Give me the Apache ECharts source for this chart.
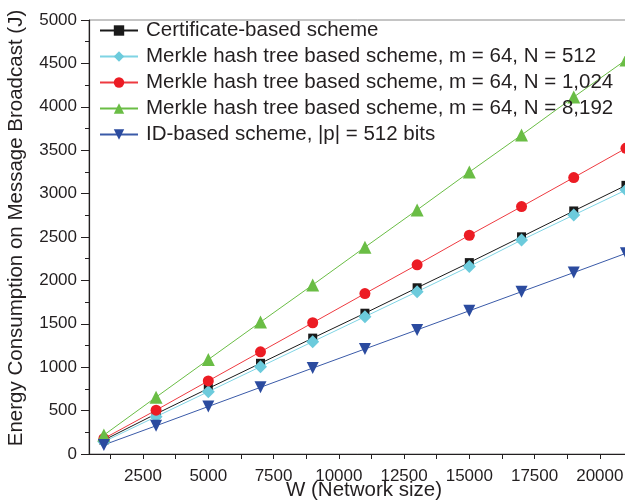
<!DOCTYPE html>
<html>
<head>
<meta charset="utf-8">
<script src="https://cdn.jsdelivr.net/npm/echarts@6/dist/echarts.min.js"></script>
<style>
  html, body { margin: 0; padding: 0; background: #fff; }
  #chart { width: 625px; height: 502px; }
</style>
</head>
<body>
<div id="chart"></div>
<script>
// network size W
const wValues = [1000, 3000, 5000, 7000, 9000, 11000, 13000, 15000, 17000, 19000, 21000];
// energy (J)
const certBased  = [160, 462, 755, 1045, 1335, 1622, 1915, 2205, 2502, 2800, 3095];
const merkle512  = [142, 430, 718, 1006, 1294, 1582, 1870, 2160, 2465, 2753, 3041];
const merkle1024 = [178, 505, 842, 1177, 1512, 1848, 2180, 2520, 2850, 3185, 3522];
const merkle8192 = [218, 655, 1088, 1520, 1948, 2382, 2812, 3248, 3675, 4112, 4540];
const idBased    = [105, 325, 547, 768, 990, 1210, 1430, 1650, 1870, 2090, 2312];

const seriesNames = [
  'Certificate-based scheme',
  'Merkle hash tree based scheme, m = 64, N = 512',
  'Merkle hash tree based scheme, m = 64, N = 1,024',
  'Merkle hash tree based scheme, m = 64, N = 8,192',
  'ID-based scheme, |p| = 512 bits'
];
const xLabelValues = [2500, 5000, 7500, 10000, 12500, 15000, 17500, 20000];
const xTickValues = [1250, 2500, 3750, 5000, 6250, 7500, 8750, 10000, 11250, 12500,
  13750, 15000, 16250, 17500, 18750, 20000, 21250];

const font = 'Liberation Sans, Arial, sans-serif';
const chart = echarts.init(document.getElementById('chart'));

function pairs(ys) {
  return ys.map((y, i) => [wValues[i], y]);
}
function mk(name, ys, color, lineColor, symbol, size, rotate) {
  return {
    name: name,
    type: 'line',
    data: pairs(ys),
    symbol: symbol,
    symbolSize: size,
    symbolRotate: rotate || 0,
    showAllSymbol: true,
    itemStyle: { color: color },
    lineStyle: { color: lineColor, width: 1 },
    animation: false,
    clip: false
  };
}

const option = {
  animation: false,
  textStyle: { fontFamily: font },
  grid: {
    left: 89, right: -14, top: 20, bottom: 48,
    show: true, borderColor: '#8a8a8a', borderWidth: 1,
    outerBoundsMode: 'none'
  },
  legend: {
    orient: 'vertical',
    left: 94, top: 15,
    itemWidth: 38, itemHeight: 13, itemGap: 5,
    textStyle: { fontSize: 20.5, color: '#231f20', fontFamily: font, padding: [0, 0, 0, 3] },
    data: seriesNames
  },
  xAxis: {
    type: 'value',
    min: 430, max: 21500,
    name: 'W (Network size)',
    nameLocation: 'middle',
    nameGap: 26,
    nameMoveOverlap: false,
    nameTextStyle: { fontSize: 20.5, color: '#231f20', fontFamily: font },
    axisLine: { lineStyle: { color: '#231f20', width: 1.2 } },
    axisTick: { show: true, length: 5, customValues: xTickValues, lineStyle: { color: '#231f20' } },
    axisLabel: {
      customValues: xLabelValues, fontSize: 17, color: '#231f20', margin: 14, fontFamily: font,
      formatter: (v) => String(v)
    },
    splitLine: { show: false }
  },
  yAxis: {
    type: 'value',
    min: 0, max: 5000, interval: 500,
    name: 'Energy Consumption on Message Broadcast (J)',
    nameLocation: 'middle',
    nameGap: 62,
    nameMoveOverlap: false,
    nameTextStyle: { fontSize: 20.5, color: '#231f20', fontFamily: font, padding: [0, 0, 0, 18] },
    axisLine: { show: true, lineStyle: { color: '#231f20', width: 1.2 } },
    axisTick: { show: true, length: 8, lineStyle: { color: '#231f20' } },
    minorTick: { show: true, splitNumber: 2, length: 4, lineStyle: { color: '#231f20' } },
    axisLabel: {
      fontSize: 17, color: '#231f20', margin: 12, fontFamily: font,
      formatter: (v) => String(v)
    },
    splitLine: { show: false }
  },
  series: [
    mk(seriesNames[0], certBased, '#1a1a1a', '#1a1a1a', 'rect', 9),
    mk(seriesNames[1], merkle512, '#6ccbdc', '#7fd4e4', 'diamond', 13),
    mk(seriesNames[2], merkle1024, '#ec1c24', '#ee3a40', 'circle', 11),
    mk(seriesNames[3], merkle8192, '#6abd45', '#6abd45', 'triangle', 13),
    mk(seriesNames[4], idBased, '#2b4b9f', '#3a5aa8', 'triangle', 12, 180)
  ]
};
chart.setOption(option);
</script>
</body>
</html>
